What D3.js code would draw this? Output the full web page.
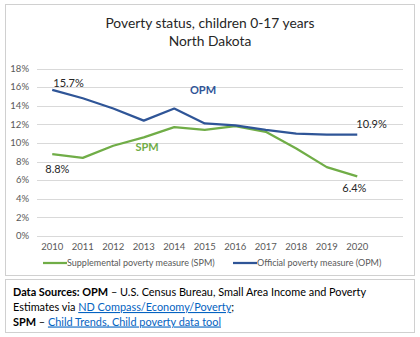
<!DOCTYPE html>
<html>
<head>
<meta charset="utf-8">
<script src="https://cdn.jsdelivr.net/npm/d3@7"></script>
<style>
  body { margin: 0; background: #fff; }
  svg { display: block; font-family: Lato, "Open Sans", sans-serif; }
</style>
</head>
<body>
<div id="chart"></div>
<script>
// data
const years = [2010, 2011, 2012, 2013, 2014, 2015, 2016, 2017, 2018, 2019, 2020];
const opm = [15.7, 14.8, 13.7, 12.4, 13.7, 12.1, 11.9, 11.4, 11.0, 10.9, 10.9];
const spm = [8.8, 8.4, 9.7, 10.6, 11.7, 11.4, 11.8, 11.2, 9.4, 7.4, 6.4];
const yTicks = [0, 2, 4, 6, 8, 10, 12, 14, 16, 18];

const width = 420;
const height = 337;
const blue = '#2f5597';
const green = '#70ad47';

const svg = d3.select('#chart')
  .append('svg')
  .attr('width', width)
  .attr('height', height);

// outer boxes
svg.append('rect')
  .attr('x', 5.5).attr('y', 4.5)
  .attr('width', 409).attr('height', 271)
  .attr('fill', '#fff').attr('stroke', '#d0d0d0');

svg.append('rect')
  .attr('x', 5.5).attr('y', 279.5)
  .attr('width', 409).attr('height', 53)
  .attr('fill', '#fff').attr('stroke', '#d0d0d0');

// title
const title = svg.append('text')
  .attr('text-anchor', 'middle')
  .attr('fill', '#262626')
  .style('font-size', '13.8px');
title.append('tspan').attr('x', 210).attr('y', 28).text('Poverty status, children 0-17 years');
title.append('tspan').attr('x', 210).attr('y', 45.5).text('North Dakota');

// scales: Excel leaves one empty category slot at the right
const x = d3.scaleBand()
  .domain(years)
  .range([37, 372.5]);

const y = d3.scaleLinear()
  .domain([0, 18])
  .range([236, 68.5]);

const cx = (d) => x(d) + x.bandwidth() / 2;

// gridlines
svg.append('g')
  .selectAll('line')
  .data(yTicks)
  .join('line')
  .attr('x1', 37)
  .attr('x2', 403)
  .attr('y1', (d) => Math.round(y(d)) + 0.5)
  .attr('y2', (d) => Math.round(y(d)) + 0.5)
  .attr('stroke', '#d9d9d9')
  .attr('stroke-width', 1);

// y axis labels
svg.append('g')
  .selectAll('text')
  .data(yTicks)
  .join('text')
  .attr('x', 29)
  .attr('y', (d) => y(d))
  .attr('dy', '0.35em')
  .attr('text-anchor', 'end')
  .attr('fill', '#595959')
  .style('font-size', '9.5px')
  .text((d) => `${d}%`);

// x axis labels
svg.append('g')
  .selectAll('text')
  .data(years)
  .join('text')
  .attr('x', cx)
  .attr('y', 247)
  .attr('dy', '0.35em')
  .attr('text-anchor', 'middle')
  .attr('fill', '#595959')
  .style('font-size', '9.5px')
  .text((d) => d);

// lines
const line = d3.line()
  .x((d, i) => cx(years[i]))
  .y((d) => y(d));

svg.append('path')
  .datum(spm)
  .attr('d', line)
  .attr('fill', 'none')
  .attr('stroke', green)
  .attr('stroke-width', 2.25)
  .attr('stroke-linejoin', 'round');

svg.append('path')
  .datum(opm)
  .attr('d', line)
  .attr('fill', 'none')
  .attr('stroke', blue)
  .attr('stroke-width', 2.25)
  .attr('stroke-linejoin', 'round');

// data labels
const labels = [
  { text: '15.7%', x: cx(2010), y: y(opm[0]), dx: 1, dy: -7, anchor: 'start' },
  { text: '8.8%', x: cx(2010), y: y(spm[0]), dx: -7, dy: 15, anchor: 'start' },
  { text: '10.9%', x: cx(2020), y: y(opm[10]), dx: -1, dy: -10, anchor: 'start' },
  { text: '6.4%', x: cx(2020), y: y(spm[10]), dx: -15, dy: 12, anchor: 'start' },
];

svg.append('g')
  .selectAll('text')
  .data(labels)
  .join('text')
  .attr('x', (d) => d.x + d.dx)
  .attr('y', (d) => d.y + d.dy)
  .attr('dy', '0.35em')
  .attr('text-anchor', (d) => d.anchor)
  .attr('fill', '#262626')
  .style('font-size', '11px')
  .text((d) => d.text);

// series names on the plot
svg.append('text')
  .attr('x', 203).attr('y', 90).attr('dy', '0.35em')
  .attr('text-anchor', 'middle')
  .attr('fill', blue)
  .style('font-size', '11px')
  .style('font-weight', 'bold')
  .text('OPM');

svg.append('text')
  .attr('x', 147).attr('y', 147.5).attr('dy', '0.35em')
  .attr('text-anchor', 'middle')
  .attr('fill', green)
  .style('font-size', '11px')
  .style('font-weight', 'bold')
  .text('SPM');

// legend
const legend = [
  { name: 'Supplemental poverty measure (SPM)', color: green, x: 43 },
  { name: 'Official poverty measure (OPM)', color: blue, x: 233 },
];

const lg = svg.append('g')
  .selectAll('g')
  .data(legend)
  .join('g')
  .attr('transform', (d) => `translate(${d.x}, 263)`);

lg.append('line')
  .attr('x1', 0).attr('x2', 24)
  .attr('stroke', (d) => d.color)
  .attr('stroke-width', 2.25);

lg.append('text')
  .attr('x', 24)
  .attr('dy', '0.35em')
  .attr('fill', '#595959')
  .style('font-size', '9px')
  .text((d) => d.name);

// sources
const src = svg.append('g')
  .attr('fill', '#000')
  .style('font-size', '10.9px');

const l1 = src.append('text').attr('x', 13).attr('y', 296);
l1.append('tspan').style('font-weight', 'bold').text('Data Sources: OPM');
l1.append('tspan').text(' \u2013 U.S. Census Bureau, Small Area Income and Poverty');

const l2 = src.append('text').attr('x', 13).attr('y', 311);
l2.append('tspan').text('Estimates via ');
l2.append('tspan').attr('fill', '#0563c1').style('text-decoration', 'underline').text('ND Compass/Economy/Poverty');
l2.append('tspan').text(';');

const l3 = src.append('text').attr('x', 13).attr('y', 325.5);
l3.append('tspan').style('font-weight', 'bold').text('SPM');
l3.append('tspan').text(' \u2013 ');
l3.append('tspan').attr('fill', '#0563c1').style('text-decoration', 'underline').text('Child Trends, Child poverty data tool');
</script>
</body>
</html>
